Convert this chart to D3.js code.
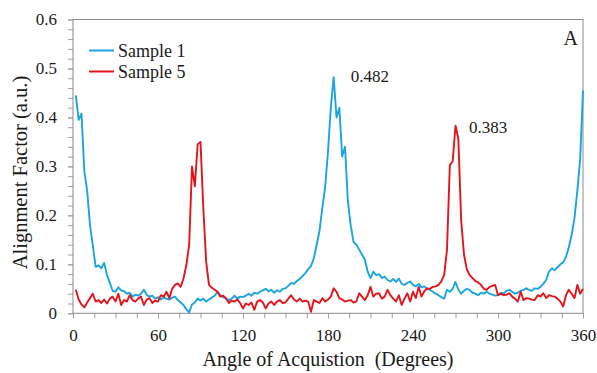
<!DOCTYPE html>
<html>
<head>
<meta charset="utf-8">
<script src="https://cdn.jsdelivr.net/npm/d3@7/dist/d3.min.js"></script>
<style>
  body { margin: 0; background: #fff; }
  svg { display: block; }
</style>
</head>
<body>
<div id="chart"></div>
<script>
// angles of acquisition (degrees), sampled every 2 degrees
const angles = [
  2, 4, 6, 8, 10, 12, 14, 16, 18, 20, 22, 24, 26, 28, 30, 32, 34, 36, 38, 40,
  42, 44, 46, 48, 50, 52, 54, 56, 58, 60, 62, 64, 66, 68, 70, 72, 74, 76, 78, 80,
  82, 84, 86, 88, 90, 92, 94, 96, 98, 100, 102, 104, 106, 108, 110, 112, 114, 116, 118, 120,
  122, 124, 126, 128, 130, 132, 134, 136, 138, 140, 142, 144, 146, 148, 150, 152, 154, 156, 158, 160,
  162, 164, 166, 168, 170, 172, 174, 176, 178, 180, 182, 184, 186, 188, 190, 192, 194, 196, 198, 200,
  202, 204, 206, 208, 210, 212, 214, 216, 218, 220, 222, 224, 226, 228, 230, 232, 234, 236, 238, 240,
  242, 244, 246, 248, 250, 252, 254, 256, 258, 260, 262, 264, 266, 268, 270, 272, 274, 276, 278, 280,
  282, 284, 286, 288, 290, 292, 294, 296, 298, 300, 302, 304, 306, 308, 310, 312, 314, 316, 318, 320,
  322, 324, 326, 328, 330, 332, 334, 336, 338, 340, 342, 344, 346, 348, 350, 352, 354, 356, 358, 360
];

const sample1 = [
  0.445, 0.395, 0.408, 0.290, 0.250, 0.180, 0.138, 0.095, 0.098, 0.092, 0.103, 0.078, 0.062, 0.046, 0.044, 0.053, 0.047, 0.045, 0.040, 0.042,
  0.034, 0.038, 0.036, 0.040, 0.048, 0.038, 0.034, 0.036, 0.030, 0.033, 0.028, 0.032, 0.030, 0.028, 0.032, 0.034, 0.027, 0.022, 0.017, 0.008,
  0.002, 0.018, 0.022, 0.030, 0.026, 0.030, 0.024, 0.028, 0.032, 0.036, 0.044, 0.037, 0.033, 0.030, 0.027, 0.030, 0.036, 0.030, 0.034, 0.033,
  0.036, 0.040, 0.036, 0.042, 0.040, 0.044, 0.047, 0.050, 0.045, 0.048, 0.042, 0.047, 0.044, 0.050, 0.051, 0.056, 0.062, 0.060, 0.066, 0.070,
  0.076, 0.082, 0.090, 0.097, 0.112, 0.140, 0.168, 0.215, 0.258, 0.330, 0.420, 0.482, 0.400, 0.420, 0.320, 0.340, 0.230, 0.180, 0.146, 0.140,
  0.130, 0.120, 0.110, 0.085, 0.072, 0.085, 0.078, 0.080, 0.072, 0.075, 0.068, 0.065, 0.070, 0.064, 0.071, 0.060, 0.058, 0.062, 0.065, 0.058,
  0.055, 0.060, 0.053, 0.055, 0.050, 0.048, 0.044, 0.040, 0.037, 0.033, 0.030, 0.048, 0.044, 0.050, 0.064, 0.048, 0.040, 0.046, 0.050, 0.048,
  0.042, 0.040, 0.037, 0.042, 0.040, 0.044, 0.040, 0.038, 0.036, 0.037, 0.042, 0.040, 0.046, 0.048, 0.044, 0.040, 0.042, 0.046, 0.048, 0.051,
  0.048, 0.046, 0.051, 0.050, 0.054, 0.060, 0.068, 0.085, 0.092, 0.088, 0.094, 0.100, 0.104, 0.115, 0.135, 0.160, 0.195, 0.250, 0.315, 0.455
];

const sample5 = [
  0.048, 0.028, 0.018, 0.012, 0.022, 0.031, 0.040, 0.024, 0.027, 0.021, 0.028, 0.020, 0.030, 0.034, 0.024, 0.040, 0.017, 0.027, 0.024, 0.037,
  0.027, 0.024, 0.030, 0.034, 0.017, 0.028, 0.031, 0.021, 0.026, 0.024, 0.037, 0.034, 0.044, 0.031, 0.050, 0.058, 0.061, 0.054, 0.071, 0.098,
  0.140, 0.300, 0.259, 0.345, 0.350, 0.214, 0.105, 0.058, 0.052, 0.048, 0.044, 0.034, 0.036, 0.031, 0.021, 0.026, 0.024, 0.028, 0.021, 0.010,
  0.020, 0.017, 0.022, 0.007, 0.024, 0.027, 0.022, 0.010, 0.020, 0.024, 0.017, 0.024, 0.027, 0.021, 0.022, 0.030, 0.037, 0.028, 0.024, 0.030,
  0.024, 0.026, 0.024, 0.003, 0.027, 0.024, 0.021, 0.031, 0.024, 0.028, 0.034, 0.051, 0.044, 0.031, 0.028, 0.024, 0.026, 0.027, 0.022, 0.024,
  0.041, 0.034, 0.027, 0.037, 0.054, 0.034, 0.040, 0.041, 0.030, 0.034, 0.048, 0.037, 0.030, 0.024, 0.037, 0.017, 0.030, 0.041, 0.024, 0.044,
  0.031, 0.054, 0.034, 0.045, 0.051, 0.050, 0.054, 0.055, 0.058, 0.065, 0.078, 0.130, 0.303, 0.310, 0.383, 0.357, 0.190, 0.120, 0.090, 0.078,
  0.072, 0.066, 0.063, 0.058, 0.050, 0.048, 0.054, 0.056, 0.058, 0.037, 0.040, 0.037, 0.038, 0.041, 0.034, 0.030, 0.024, 0.044, 0.027, 0.031,
  0.030, 0.028, 0.027, 0.037, 0.034, 0.041, 0.031, 0.037, 0.035, 0.034, 0.030, 0.024, 0.014, 0.037, 0.048, 0.040, 0.031, 0.058, 0.040, 0.050
];

const seriesNames = ['Sample 1', 'Sample 5'];
const seriesColors = ['#1ba4de', '#e3151c'];
const xTicks = [0, 60, 120, 180, 240, 300, 360];
const yTicks = [0, 0.1, 0.2, 0.3, 0.4, 0.5, 0.6];
const peakLabels = ['0.482', '0.383'];

const serif = "'Liberation Serif', 'DejaVu Serif', serif";
const W = 597, H = 373;
const margin = {top: 19.5, right: 14, bottom: 59.7, left: 73};
const width = W - margin.left - margin.right,
      height = H - margin.top - margin.bottom;

const svg = d3.select('#chart').append('svg')
    .attr('width', W)
    .attr('height', H)
    .style('font-family', serif);

const g = svg.append('g')
    .attr('transform', 'translate(' + margin.left + ',' + margin.top + ')');

const x = d3.scaleLinear().domain([0, 360]).range([0, width]);
const y = d3.scaleLinear().domain([0, 0.6]).range([height, 0]);

// minor ticks (no labels)
g.append('g')
    .attr('transform', 'translate(0,' + height + ')')
    .call(d3.axisBottom(x).tickValues(d3.range(0, 361, 15)).tickSize(5).tickFormat(''));
g.append('g')
    .call(d3.axisLeft(y).tickValues(d3.range(0, 0.601, 0.02)).tickSize(5).tickFormat(''));

// major ticks with labels
g.append('g')
    .attr('transform', 'translate(0,' + height + ')')
    .call(d3.axisBottom(x).tickValues(xTicks).tickSize(5).tickPadding(11).tickFormat(d3.format('d')));
g.append('g')
    .call(d3.axisLeft(y).tickValues(yTicks).tickSize(5).tickPadding(11).tickFormat(d => d === 0 ? '0' : d3.format('.1f')(d)));

svg.selectAll('.domain').remove();
svg.selectAll('.tick line').attr('stroke', '#a0a0a0');
// d3 axes set font-family="sans-serif" on their groups; clear it
svg.selectAll('g').attr('font-family', null);
svg.selectAll('.tick text')
    .style('font-size', '17px')
    .attr('fill', '#1a1a1a');

// plot frame
g.append('rect')
    .attr('x', 0).attr('y', 0)
    .attr('width', width).attr('height', height)
    .attr('fill', 'none')
    .attr('stroke', '#8a8a8a')
    .attr('stroke-width', 1);

// data lines
const line = d3.line()
    .x((d, i) => x(angles[i]))
    .y(d => y(d));

[sample1, sample5].forEach((s, k) => {
    g.append('path')
        .datum(s)
        .attr('fill', 'none')
        .attr('stroke', seriesColors[k])
        .attr('stroke-width', 1.9)
        .attr('stroke-linejoin', 'round')
        .attr('d', line);
});

// peak annotations
g.append('text')
    .attr('x', x(196)).attr('y', y(0.472))
    .style('font-size', '17px')
    .attr('fill', '#1a1a1a')
    .text(peakLabels[0]);
g.append('text')
    .attr('x', x(279.5)).attr('y', y(0.368))
    .style('font-size', '17px')
    .attr('fill', '#1a1a1a')
    .text(peakLabels[1]);

// panel letter
g.append('text')
    .attr('x', width - 5).attr('y', 25.5)
    .attr('text-anchor', 'end')
    .style('font-size', '20px')
    .attr('fill', '#1a1a1a')
    .text('A');

// legend
const legend = g.append('g').attr('transform', 'translate(16,31)');
seriesNames.forEach((name, k) => {
    const row = legend.append('g').attr('transform', 'translate(0,' + (k * 21) + ')');
    row.append('line')
        .attr('x1', 0).attr('x2', 25)
        .attr('y1', 0).attr('y2', 0)
        .attr('stroke', seriesColors[k])
        .attr('stroke-width', 2);
    row.append('text')
        .attr('x', 29).attr('y', 6)
        .style('font-size', '18px')
        .attr('fill', '#1a1a1a')
        .text(name);
});

// axis titles
svg.append('text')
    .attr('x', margin.left + width / 2)
    .attr('y', 366)
    .attr('text-anchor', 'middle')
    .style('font-size', '20px')
    .style('white-space', 'pre')
    .attr('fill', '#1a1a1a')
    .text('Angle of Acquistion  (Degrees)');

svg.append('text')
    .attr('transform', 'translate(27,172.5) rotate(-90)')
    .attr('text-anchor', 'middle')
    .style('font-size', '20.5px')
    .attr('fill', '#1a1a1a')
    .text('Alignment Factor (a.u.)');
</script>
</body>
</html>
